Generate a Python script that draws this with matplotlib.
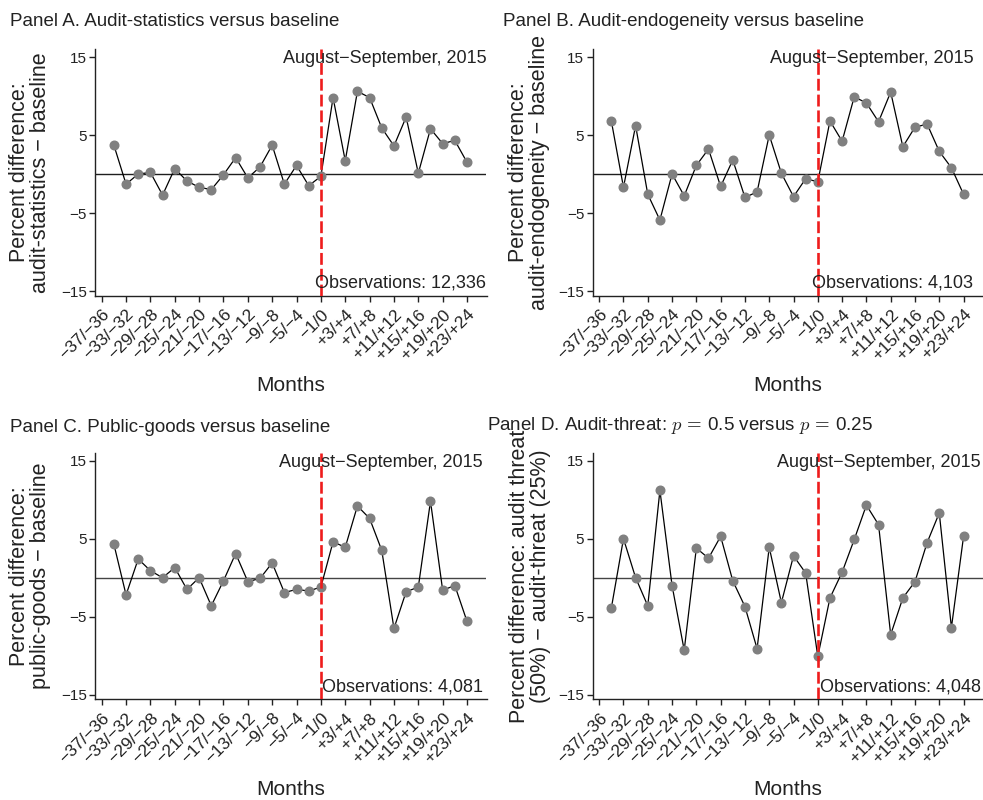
import matplotlib
matplotlib.use("Agg")
import matplotlib.pyplot as plt
from matplotlib.transforms import blended_transform_factory

plt.rcParams["font.family"] = ["Liberation Sans", "DejaVu Sans"]
plt.rcParams["mathtext.fontset"] = "cm"

# Bi-monthly periods, indexed by the last month of each period (0 = August-September 2015)
period_end = [-34, -32, -30, -28, -26, -24, -22, -20, -18, -16, -14, -12, -10, -8, -6, -4, -2, 0,
              2, 4, 6, 8, 10, 12, 14, 16, 18, 20, 22, 24]

tick_pos = [-36, -32, -28, -24, -20, -16, -12, -8, -4, 0, 4, 8, 12, 16, 20, 24]
tick_labels = ["−37/−36", "−33/−32", "−29/−28", "−25/−24", "−21/−20", "−17/−16",
               "−13/−12", "−9/−8", "−5/−4", "−1/0", "+3/+4", "+7/+8", "+11/+12",
               "+15/+16", "+19/+20", "+23/+24"]

audit_statistics = [3.7, -1.3, 0.0, 0.2, -2.7, 0.7, -0.9, -1.7, -2.0, -0.1, 2.1, -0.5, 0.9, 3.7,
                    -1.3, 1.1, -1.5, -0.3, 9.8, 1.7, 10.6, 9.8, 5.9, 3.6, 7.3, 0.1, 5.8, 3.9, 4.3, 1.5]
audit_endogeneity = [6.8, -1.7, 6.2, -2.6, -5.9, 0.0, -2.8, 1.1, 3.2, -1.6, 1.8, -3.0, -2.3, 5.0,
                     0.1, -2.9, -0.6, -1.0, 6.8, 4.2, 9.9, 9.1, 6.7, 10.5, 3.5, 6.0, 6.4, 2.9, 0.8, -2.6]
public_goods = [4.3, -2.2, 2.4, 0.9, 0.0, 1.3, -1.5, 0.0, -3.6, -0.4, 3.1, -0.5, -0.1, 1.9,
                -1.9, -1.5, -1.7, -1.2, 4.6, 3.9, 9.2, 7.6, 3.5, -6.5, -1.8, -1.2, 9.8, -1.6, -1.0, -5.6]
audit_threat = [-3.9, 5.0, 0.0, -3.6, 11.2, -1.0, -9.3, 3.8, 2.5, 5.3, -0.4, -3.7, -9.1, 3.9,
                -3.2, 2.8, 0.6, -10.1, -2.6, 0.7, 4.9, 9.3, 6.8, -7.3, -2.6, -0.5, 4.5, 8.3, -6.4, 5.3]

titles = ["Panel A. Audit-statistics versus baseline",
          "Panel B. Audit-endogeneity versus baseline",
          "Panel C. Public-goods versus baseline",
          "Panel D. Audit-threat: $p\\,=\\,$0.5 versus $p\\,=\\,$0.25"]
ylabels = ["Percent difference:\naudit-statistics − baseline",
           "Percent difference:\naudit-endogeneity − baseline",
           "Percent difference:\npublic-goods − baseline",
           "Percent difference: audit threat\n(50%) − audit-threat (25%)"]
observations = ["Observations: 12,336", "Observations: 4,103",
                "Observations: 4,081", "Observations: 4,048"]
series = [audit_statistics, audit_endogeneity, public_goods, audit_threat]
zero_colors = ["#1e1e1e", "#1e1e1e", "#444444", "#444444"]

W, H = 983, 800
fig = plt.figure(figsize=(W / 100, H / 100), dpi=100)

# axes boxes in pixels: left, right, top, bottom
boxes = [(95, 486.5, 49.2, 295.7), (592.5, 983, 49.2, 295.7),
         (95, 486.5, 452.9, 699.4), (592.5, 983, 452.9, 699.4)]
title_xy = [(10, 26), (503, 26), (10, 432), (487, 430)]
text_right = [1.0, 0.975, 0.99, 0.995]
ylabel_x = [-0.166, -0.163, -0.166, -0.160]

for i in range(4):
    l, r, t, b = boxes[i]
    ax = fig.add_axes([l / W, (H - b) / H, (r - l) / W, (b - t) / H])
    ax.axhline(0, color=zero_colors[i], lw=1.0, zorder=1)
    ax.axvline(0, color="#ee1c1c", lw=1.9, ls=(0, (4.5, 1.5)), zorder=3)
    ax.plot(period_end, series[i], color="black", lw=0.9, zorder=2,
            marker="o", ms=6.2, mfc="#808080", mec="#808080")
    ax.set_xlim(-37.1, 27.2)
    ax.set_ylim(-15.6, 16.0)
    ax.set_yticks([-15, -5, 5, 15])
    ax.set_yticklabels(["−15", "−5", "5", "15"])
    ax.set_xticks(tick_pos)
    ax.set_xticklabels(tick_labels, rotation=45, ha="right", va="top",
                       rotation_mode="anchor")
    ax.tick_params(axis="both", direction="out", length=4, width=1,
                   color="#222222", labelcolor="#222222", pad=2)
    ax.tick_params(axis="y", labelsize=11)
    ax.tick_params(axis="x", labelsize=12.5, pad=4)
    for s in ("top", "right"):
        ax.spines[s].set_visible(False)
    for s in ("left", "bottom"):
        ax.spines[s].set_linewidth(1.0)
        ax.spines[s].set_color("#222222")
    ax.set_ylabel(ylabels[i], fontsize=15.5, color="#222222", va="center",
                  linespacing=1.0)
    ax.yaxis.set_label_coords(ylabel_x[i], 0.5)
    ax.set_xlabel("Months", fontsize=15, color="#222222", va="center")
    ax.xaxis.set_label_coords(0.5, -0.365)
    tr = blended_transform_factory(ax.transAxes, ax.transData)
    ax.text(text_right[i], 15.9, "August−September, 2015", transform=tr,
            ha="right", va="top", fontsize=13, color="#222222", zorder=4)
    ax.text(text_right[i], -14.6, observations[i], transform=tr,
            ha="right", va="baseline", fontsize=13, color="#222222", zorder=4)
    tx, ty = title_xy[i]
    fig.text(tx / W, 1 - ty / H, titles[i], fontsize=13.5, color="#222222",
             ha="left", va="baseline")

fig.savefig("out.png", dpi=100)
